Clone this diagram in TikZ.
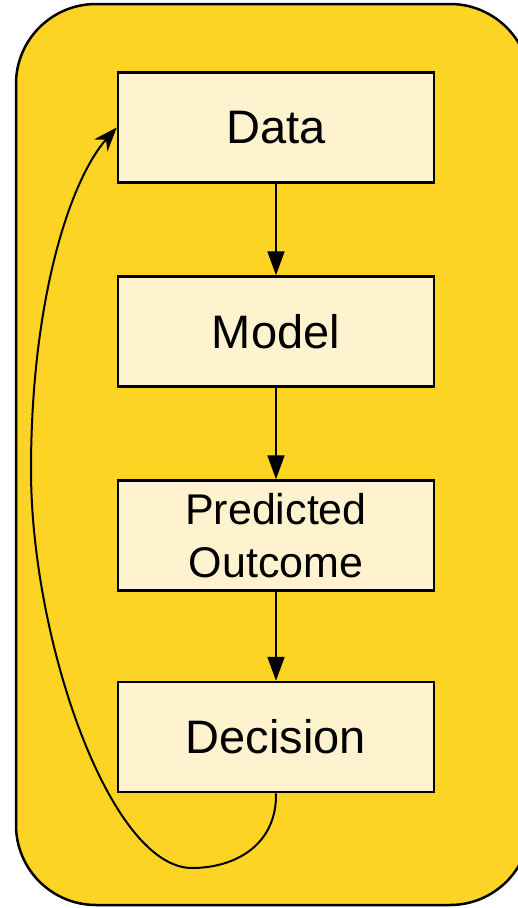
\documentclass[tikz,border=0pt]{standalone}
\usepackage{fontspec}
\setmainfont{Liberation Sans}
\usetikzlibrary{positioning,arrows.meta}
\definecolor{panelyellow}{RGB}{253,211,36}
\definecolor{boxcream}{RGB}{255,242,206}

\begin{document}
\begin{tikzpicture}
  [
    x=1pt, y=-1pt,
    stage/.style={draw, rectangle, fill=boxcream, line width=2.5pt, minimum width=316pt, minimum height=110pt, inner sep=2pt, align=center, font=\fontsize{47}{53}\selectfont},
    node distance=91.5pt,
    flow/.style={->, line width=2pt, >={Triangle[length=24pt,width=17pt]}},
    feedback/.style={->, line width=2pt, >={Stealth[length=24pt,width=18pt]}}
  ]
  \useasboundingbox (0,0) rectangle (518,908);
  \draw [fill=panelyellow, line width=2.5pt, rounded corners=80pt] (16,4) rectangle (530,905);

  \node (data) [stage] at (276,127.5) {Data};
  \node (model) [stage, below=of data] {Model};
  \node (outcome) [stage, below=of model, font=\fontsize{43}{53}\selectfont] {Predicted\\Outcome};
  \node (decision) [stage, below=89pt of outcome] {Decision};

  \draw [flow] (data) -- (model);
  \draw [flow] (model) -- (outcome);
  \draw [flow] (outcome) -- (decision);
  \draw [feedback] (decision.south) .. controls (277,845) and (235,868) .. (192,868)
    .. controls (110,868) and (31,640) .. (31,470)
    .. controls (31,300) and (70,180) .. (data.west);
\end{tikzpicture}
\end{document}
